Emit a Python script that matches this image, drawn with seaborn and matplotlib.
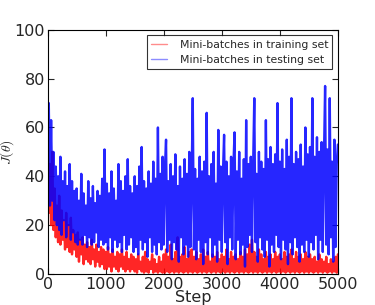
import numpy as np
import pandas as pd
import seaborn as sns
import matplotlib
matplotlib.use("Agg")
import matplotlib.pyplot as plt

# loss per mini-batch, every 20 steps (peaks and troughs)
steps = np.arange(0, 5001, 20)

train_loss = [
    60, 25, 45, 20, 50, 18, 35, 15, 28, 13, 32, 12, 26, 14, 22, 10, 25, 11, 20, 9, 23, 8, 18, 10, 16,
    7, 17, 5, 14, 8, 15, 4, 12, 6, 13, 5, 11, 4, 14, 6, 10, 3, 12, 5, 9, 3, 11, 4, 10, 2,
    9, 2, 11, 3, 8, 1, 10, 3, 7, 2, 9, 1, 8, 3, 10, 2, 7, 1, 9, 2, 6, 1, 8, 2, 7,
    1, 6, 0.5, 8, 2, 5, 1, 7, 0.5, 9, 1, 6, 0.5, 5, 2, 8, 0.5, 6, 1, 4, 0.5, 7, 1, 5, 0.5,
    8, 0.5, 10, 1, 7, 0.5, 12, 1, 6, 0.5, 9, 1, 15, 0.5, 7, 1, 8, 0.5, 11, 1, 6, 0.5, 9, 1, 10,
    0.5, 7, 1, 9, 0.5, 6, 1, 8, 0.5, 10, 1, 7, 0.5, 9, 1, 5, 0.5, 8, 1, 7, 0.5, 9, 1, 6, 0.5,
    8, 1, 7, 0.5, 10, 1, 6, 0.5, 9, 1, 7, 0.5, 8, 1, 6, 0.5, 9, 1, 7, 0.5, 10, 1, 8, 0.5, 12,
    1, 14, 0.5, 9, 1, 7, 0.5, 10, 1, 8, 0.5, 6, 1, 9, 0.5, 7, 1, 8, 0.5, 6, 1, 9, 0.5, 7, 1,
    8, 0.5, 6, 1, 9, 0.5, 7, 1, 8, 0.5, 10, 1, 6, 0.5, 9, 1, 7, 0.5, 8, 1, 6, 0.5, 9, 1, 7,
    0.5, 8, 1, 6, 0.5, 7, 1, 5, 0.5, 8, 1, 6, 0.5, 5, 1, 7, 0.5, 4, 1, 6, 0.5, 5, 1, 7, 0.5,
    8,
]

test_loss = [
    45, 70, 28, 63, 30, 50, 22, 44, 20, 40, 18, 48, 16, 38, 22, 42, 15, 36, 20, 45, 14, 38, 17, 34, 13,
    35, 12, 30, 14, 41, 12, 33, 16, 28, 11, 38, 15, 31, 12, 36, 13, 29, 17, 34, 11, 32, 14, 39, 12, 51,
    13, 37, 10, 33, 15, 42, 9, 35, 14, 30, 11, 45, 13, 38, 9, 34, 16, 40, 10, 47, 12, 36, 15, 33, 9,
    40, 11, 36, 8, 44, 14, 52, 10, 38, 13, 35, 7, 42, 15, 37, 9, 46, 12, 39, 8, 60, 13, 41, 10, 48,
    12, 43, 55, 9, 38, 14, 45, 6, 40, 13, 49, 10, 36, 5, 44, 15, 39, 8, 47, 12, 41, 7, 50, 11, 38,
    72, 10, 43, 6, 39, 14, 48, 9, 42, 4, 46, 13, 66, 8, 40, 15, 45, 7, 50, 12, 37, 5, 59, 14, 44,
    9, 41, 57, 13, 46, 4, 40, 15, 48, 10, 44, 58, 6, 42, 14, 50, 8, 39, 12, 47, 3, 63, 11, 45, 16,
    48, 9, 44, 72, 13, 41, 5, 50, 15, 46, 10, 43, 7, 63, 14, 47, 3, 52, 12, 45, 9, 49, 16, 70, 11,
    46, 6, 51, 14, 43, 10, 55, 4, 48, 13, 72, 8, 45, 15, 50, 11, 47, 5, 53, 12, 44, 9, 60, 14, 49,
    7, 52, 13, 72, 10, 48, 16, 56, 6, 50, 14, 54, 9, 47, 77, 12, 51, 8, 72, 15, 46, 5, 55, 11, 45,
    53,
]

sns.set_style("ticks", {"xtick.direction": "in", "ytick.direction": "in"})
plt.rcParams["font.family"] = ["DejaVu Sans"]
plt.rcParams["mathtext.fontset"] = "cm"

fig = plt.figure(figsize=(3.75, 3.05), dpi=100)
ax = fig.add_axes([0.127, 0.102, 0.774, 0.8])

sns.lineplot(x=steps, y=train_loss, color="red", alpha=0.85, lw=1.7,
             label="Mini-batches in training set", ax=ax)
sns.lineplot(x=steps, y=test_loss, color="blue", alpha=0.85, lw=1.7,
             label="Mini-batches in testing set", ax=ax)

ax.set_xlim(0, 5000)
ax.set_ylim(0, 100)
ax.set_xticks([0, 1000, 2000, 3000, 4000, 5000])
ax.set_yticks([0, 20, 40, 60, 80, 100])
ax.tick_params(top=True, right=True, length=4, width=0.8, labelsize=11.5, pad=2)
for s in ax.spines.values():
    s.set_color("black")
    s.set_linewidth(0.8)

ax.set_xlabel("Step", fontsize=11.5, labelpad=-1)
ax.set_ylabel(r"$J(\theta)$", fontsize=10)
ax.yaxis.set_label_coords(-0.108, 0.5)

leg = ax.legend(loc="upper right", fontsize=7.8, frameon=True, fancybox=False,
                edgecolor="black", borderaxespad=0.5, handlelength=1.4,
                handletextpad=1.2)
leg.get_frame().set_linewidth(0.8)
for h in leg.get_lines():
    h.set_alpha(0.45)
    h.set_linewidth(1.0)

fig.savefig("out.png", dpi=100)
